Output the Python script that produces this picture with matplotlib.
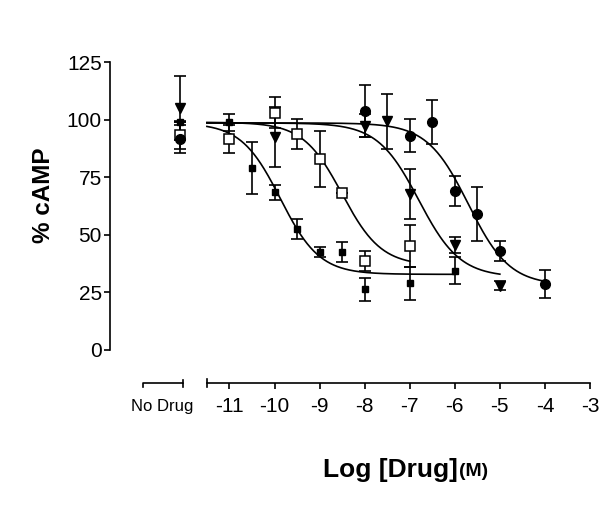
import numpy as np
import matplotlib.pyplot as plt

plt.rcParams['font.family'] = ['Liberation Sans', 'DejaVu Sans']

# x position used for the "No Drug" control on the log axis
no_drug_x = -12.1

# filled squares
sq_x = [-11, -10.5, -10, -9.5, -9, -8.5, -8, -7, -6]
sq_y = [98.8, 79, 68.3, 52.4, 42.4, 42.5, 26.2, 28.8, 34.3]
sq_e = [3.6, 11.3, 3.3, 4.5, 2.3, 4.3, 4.9, 7.1, 6.0]
sq_nd = (98.8, 0.0)
sq_fit = (98.5, 32.7, -9.87, 1.0, -6)  # top, bottom, logEC50, hill, end x

# open squares
osq_x = [-11, -10, -9.5, -9, -8.5, -8, -7]
osq_y = [91.5, 103, 93.7, 82.8, 67.9, 38.5, 45.1]
osq_e = [6.0, 6.7, 6.7, 12.0, 0.0, 4.3, 9.0]
osq_nd = (93.3, 6.0)
osq_fit = (98.8, 36.5, -8.5, 1.0, -7)

# triangles
tri_x = [-10, -8, -7.5, -7, -6, -5]
tri_y = [92.3, 97.2, 99.3, 67.6, 45.4, 27.7]
tri_e = [13.0, 5.0, 12.0, 10.9, 3.5, 2.0]
tri_nd = (105, 14.0)
tri_fit = (98.5, 31.5, -6.8, 0.95, -5)

# circles
cir_x = [-8, -7, -6.5, -6, -5.5, -5, -4]
cir_y = [103.8, 93, 98.8, 69, 58.9, 42.7, 28.5]
cir_e = [11.3, 7.3, 9.6, 6.5, 11.6, 4.3, 6.3]
cir_nd = (91.4, 6.0)
cir_fit = (98.5, 28.0, -5.7, 0.95, -4)

fig = plt.figure(figsize=(6, 5.08), dpi=100)
ax = fig.add_axes([110 / 600, 1 - 382.7 / 508, 480 / 600, (382.7 - 62) / 508])


def logistic(x, top, bottom, ec50, hill):
    return bottom + (top - bottom) / (1 + 10 ** ((x - ec50) * hill))


series = [
    (sq_x, sq_y, sq_e, sq_nd, sq_fit, dict(marker='s', ms=5, mfc='black', mec='black')),
    (osq_x, osq_y, osq_e, osq_nd, osq_fit, dict(marker='s', ms=7, mfc='white', mec='black', mew=1.1)),
    (tri_x, tri_y, tri_e, tri_nd, tri_fit, dict(marker='v', ms=7.5, mfc='black', mec='black')),
    (cir_x, cir_y, cir_e, cir_nd, cir_fit, dict(marker='o', ms=7, mfc='black', mec='black')),
]

for x, y, e, nd, fit, style in series:
    top, bottom, ec50, hill, xend = fit
    xs = np.linspace(-11.5, xend, 300)
    ax.plot(xs, logistic(xs, top, bottom, ec50, hill), color='black', lw=1.2, zorder=2)
    ax.errorbar(x + [no_drug_x], y + [nd[0]], yerr=e + [nd[1]], fmt='none',
                ecolor='black', elinewidth=1.2, capsize=4.5, capthick=1.2, zorder=3)
    ax.plot(x + [no_drug_x], y + [nd[0]], ls='none', zorder=4, clip_on=False, **style)

ax.set_xlim(-13.65, -3)
ax.set_ylim(-14.4, 125)
ax.spines['top'].set_visible(False)
ax.spines['right'].set_visible(False)
ax.spines['left'].set_bounds(0, 125)
ax.spines['bottom'].set_bounds(-11.5, -3)
for s in ('left', 'bottom'):
    ax.spines[s].set_linewidth(1.2)

ax.set_yticks([0, 25, 50, 75, 100, 125])
ax.set_xticks(range(-11, -2))
ax.set_xticklabels([str(v) for v in range(-11, -2)])
ax.tick_params(axis='both', labelsize=15, width=1.2, length=4, direction='out')
ax.tick_params(axis='x', pad=6)
ax.tick_params(axis='y', pad=2)

# start mark of main x axis and the separate "No Drug" segment
tr = ax.get_xaxis_transform()
px = 1 / (382.7 - 62)
ax.plot([-11.5, -11.5], [-4 * px, 4 * px], color='black', lw=1.2, transform=tr, clip_on=False)
ax.plot([-12.91, -12.91, -12.04, -12.04], [-4 * px, 0, 0, -4 * px], color='black', lw=1.2,
        transform=tr, clip_on=False)
ax.plot([-12.04, -12.04], [0, 3 * px], color='black', lw=1.2, transform=tr, clip_on=False)
ax.text(-12.5, -16 * px, 'No Drug', transform=tr, ha='center', va='top', fontsize=12)

fig.text(43 / 600, 1 - 195 / 508, '% cAMP', rotation=90, ha='center', va='center',
         fontsize=17.5, fontweight='bold')
fig.text(458 / 600, 1 - 470 / 508, 'Log [Drug]', ha='right', va='center',
         fontsize=19, fontweight='bold')
fig.text(459 / 600, 1 - 472 / 508, '(M)', ha='left', va='center',
         fontsize=14, fontweight='bold')

fig.savefig('out.png', dpi=100)
